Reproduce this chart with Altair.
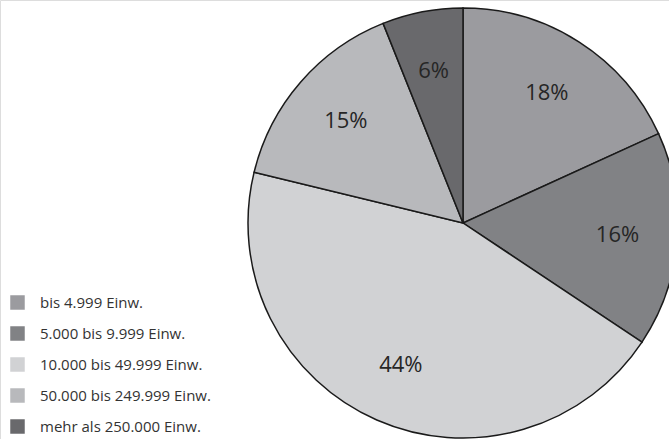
import altair as alt
import pandas as pd

# Gemeindegrößenklassen and their shares (in %)
categories = [
    "bis 4.999 Einw.",
    "5.000 bis 9.999 Einw.",
    "10.000 bis 49.999 Einw.",
    "50.000 bis 249.999 Einw.",
    "mehr als 250.000 Einw.",
]
shares = [18, 16, 44, 15, 6]
slice_colors = ["#9b9b9f", "#818285", "#d1d2d4", "#b8b9bc", "#69696c"]

df = pd.DataFrame({
    "Klasse": categories,
    "Anteil": shares,
    "Reihenfolge": list(range(len(categories))),
    "Label": [f"{v}%" for v in shares],
})

base = alt.Chart(df).encode(
    theta=alt.Theta("Anteil:Q", stack=True),
    order=alt.Order("Reihenfolge:Q"),
    x=alt.value(463),
    y=alt.value(223),
)

pie = base.mark_arc(stroke="#1a1a1a", strokeWidth=1.5, radius=215).encode(
    color=alt.Color(
        "Klasse:N",
        sort=categories,
        scale=alt.Scale(domain=categories, range=slice_colors),
        legend=alt.Legend(
            title=None,
            orient="none",
            legendX=10,
            legendY=295,
            symbolType="square",
            symbolSize=210,
            symbolStrokeWidth=0,
            labelFont="Open Sans",
            labelFontSize=15,
            labelColor="#333333",
            labelOffset=15,
            labelLimit=400,
            rowPadding=15,
        ),
    ),
)

labels = base.mark_text(
    radius=155, font="Open Sans", fontSize=22, color="#262626"
).encode(text="Label:N")

chart = (
    alt.layer(pie, labels)
    .properties(width=669, height=439, padding=0, autosize=alt.AutoSizeParams(type="none"))
    .configure_view(stroke=None)
    .configure(background="white")
)

chart.save("out.html", embed_options={"renderer": "svg", "actions": False})
